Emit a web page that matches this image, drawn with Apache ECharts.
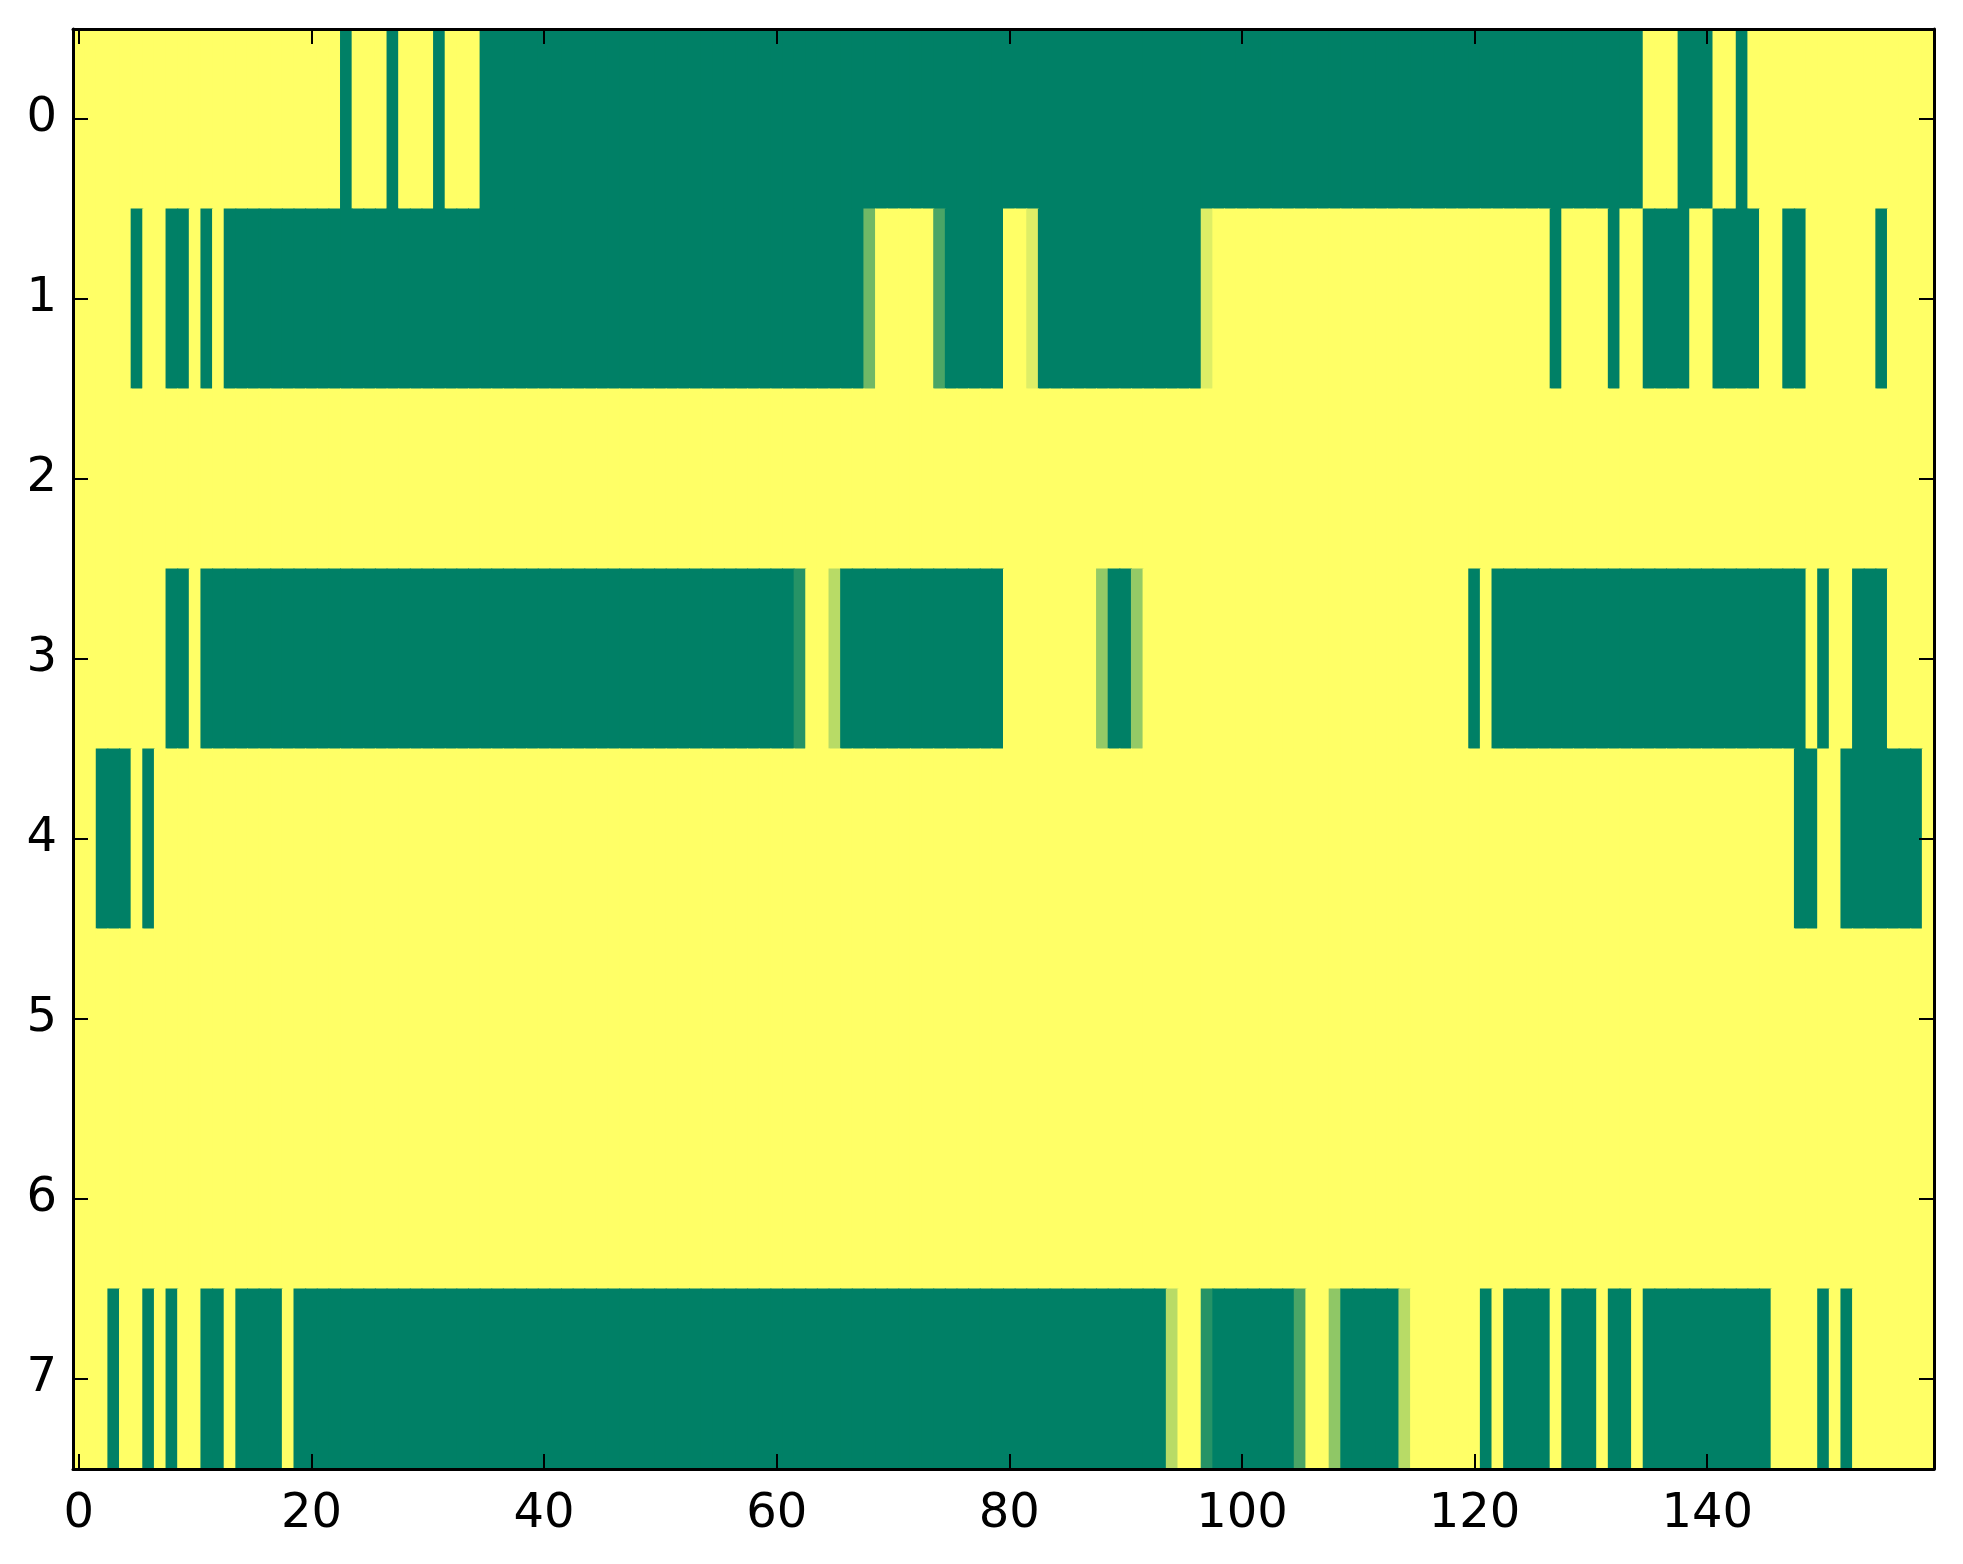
<!DOCTYPE html>
<html>
<head>
<meta charset="utf-8">
<script src="https://cdn.jsdelivr.net/npm/echarts@6/dist/echarts.min.js"></script>
<style>
html,body{margin:0;padding:0;background:#fff;}
#chart{width:1963px;height:1564px;}
</style>
</head>
<body>
<div id="chart"></div>
<script>
// Column indices 0..159 and row labels 0..7
const xCategories = Array.from({length: 160}, (_, i) => String(i));
const yCategories = ['0','1','2','3','4','5','6','7'];
const xTickLabels = ['0','20','40','60','80','100','120','140'];

// Cell values per row (0 = green end of the colormap, 1 = yellow end)
const row0 = [
 1,1,1,1,1,1,1,1,1,1, 1,1,1,1,1,1,1,1,1,1,
 1,1,1,0,1,1,1,0,1,1, 1,0,1,1,1,0,0,0,0,0,
 0,0,0,0,0,0,0,0,0,0, 0,0,0,0,0,0,0,0,0,0,
 0,0,0,0,0,0,0,0,0,0, 0,0,0,0,0,0,0,0,0,0,
 0,0,0,0,0,0,0,0,0,0, 0,0,0,0,0,0,0,0,0,0,
 0,0,0,0,0,0,0,0,0,0, 0,0,0,0,0,0,0,0,0,0,
 0,0,0,0,0,0,0,0,0,0, 0,0,0,0,0,1,1,1,0,0,
 0,1,1,0,1,1,1,1,1,1, 1,1,1,1,1,1,1,1,1,1
];
const row1 = [
 1,1,1,1,1,0,1,1,0,0, 1,0,1,0,0,0,0,0,0,0,
 0,0,0,0,0,0,0,0,0,0, 0,0,0,0,0,0,0,0,0,0,
 0,0,0,0,0,0,0,0,0,0, 0,0,0,0,0,0,0,0,0,0,
 0,0,0,0,0,0,0,0,0.44,1, 1,1,1,1,0.29,0,0,0,0,0,
 1,1,0.87,0,0,0,0,0,0,0, 0,0,0,0,0,0,0,0.87,1,1,
 1,1,1,1,1,1,1,1,1,1, 1,1,1,1,1,1,1,1,1,1,
 1,1,1,1,1,1,1,0,1,1, 1,1,0,1,1,0,0,0,0,1,
 1,0,0,0,0,1,1,0,0,1, 1,1,1,1,1,0,1,1,1,1
];
const row2 = [
 1,1,1,1,1,1,1,1,1,1, 1,1,1,1,1,1,1,1,1,1,
 1,1,1,1,1,1,1,1,1,1, 1,1,1,1,1,1,1,1,1,1,
 1,1,1,1,1,1,1,1,1,1, 1,1,1,1,1,1,1,1,1,1,
 1,1,1,1,1,1,1,1,1,1, 1,1,1,1,1,1,1,1,1,1,
 1,1,1,1,1,1,1,1,1,1, 1,1,1,1,1,1,1,1,1,1,
 1,1,1,1,1,1,1,1,1,1, 1,1,1,1,1,1,1,1,1,1,
 1,1,1,1,1,1,1,1,1,1, 1,1,1,1,1,1,1,1,1,1,
 1,1,1,1,1,1,1,1,1,1, 1,1,1,1,1,1,1,1,1,1
];
const row3 = [
 1,1,1,1,1,1,1,1,0,0, 1,0,0,0,0,0,0,0,0,0,
 0,0,0,0,0,0,0,0,0,0, 0,0,0,0,0,0,0,0,0,0,
 0,0,0,0,0,0,0,0,0,0, 0,0,0,0,0,0,0,0,0,0,
 0,0,0.15,1,1,0.72,0,0,0,0, 0,0,0,0,0,0,0,0,0,0,
 1,1,1,1,1,1,1,1,0.58,0, 0,0.58,1,1,1,1,1,1,1,1,
 1,1,1,1,1,1,1,1,1,1, 1,1,1,1,1,1,1,1,1,1,
 0,1,0,0,0,0,0,0,0,0, 0,0,0,0,0,0,0,0,0,0,
 0,0,0,0,0,0,0,0,0,1, 0,1,1,0,0,0,1,1,1,1
];
const row4 = [
 1,1,0,0,0,1,0,1,1,1, 1,1,1,1,1,1,1,1,1,1,
 1,1,1,1,1,1,1,1,1,1, 1,1,1,1,1,1,1,1,1,1,
 1,1,1,1,1,1,1,1,1,1, 1,1,1,1,1,1,1,1,1,1,
 1,1,1,1,1,1,1,1,1,1, 1,1,1,1,1,1,1,1,1,1,
 1,1,1,1,1,1,1,1,1,1, 1,1,1,1,1,1,1,1,1,1,
 1,1,1,1,1,1,1,1,1,1, 1,1,1,1,1,1,1,1,1,1,
 1,1,1,1,1,1,1,1,1,1, 1,1,1,1,1,1,1,1,1,1,
 1,1,1,1,1,1,1,1,0,0, 1,1,0,0,0,0,0,0,0,1
];
const row5 = [
 1,1,1,1,1,1,1,1,1,1, 1,1,1,1,1,1,1,1,1,1,
 1,1,1,1,1,1,1,1,1,1, 1,1,1,1,1,1,1,1,1,1,
 1,1,1,1,1,1,1,1,1,1, 1,1,1,1,1,1,1,1,1,1,
 1,1,1,1,1,1,1,1,1,1, 1,1,1,1,1,1,1,1,1,1,
 1,1,1,1,1,1,1,1,1,1, 1,1,1,1,1,1,1,1,1,1,
 1,1,1,1,1,1,1,1,1,1, 1,1,1,1,1,1,1,1,1,1,
 1,1,1,1,1,1,1,1,1,1, 1,1,1,1,1,1,1,1,1,1,
 1,1,1,1,1,1,1,1,1,1, 1,1,1,1,1,1,1,1,1,1
];
const row6 = [
 1,1,1,1,1,1,1,1,1,1, 1,1,1,1,1,1,1,1,1,1,
 1,1,1,1,1,1,1,1,1,1, 1,1,1,1,1,1,1,1,1,1,
 1,1,1,1,1,1,1,1,1,1, 1,1,1,1,1,1,1,1,1,1,
 1,1,1,1,1,1,1,1,1,1, 1,1,1,1,1,1,1,1,1,1,
 1,1,1,1,1,1,1,1,1,1, 1,1,1,1,1,1,1,1,1,1,
 1,1,1,1,1,1,1,1,1,1, 1,1,1,1,1,1,1,1,1,1,
 1,1,1,1,1,1,1,1,1,1, 1,1,1,1,1,1,1,1,1,1,
 1,1,1,1,1,1,1,1,1,1, 1,1,1,1,1,1,1,1,1,1
];
const row7 = [
 1,1,1,0,1,1,0,1,0,1, 1,0,0,1,0,0,0,0,1,0,
 0,0,0,0,0,0,0,0,0,0, 0,0,0,0,0,0,0,0,0,0,
 0,0,0,0,0,0,0,0,0,0, 0,0,0,0,0,0,0,0,0,0,
 0,0,0,0,0,0,0,0,0,0, 0,0,0,0,0,0,0,0,0,0,
 0,0,0,0,0,0,0,0,0,0, 0,0,0,0,0.72,1,1,0.15,0,0,
 0,0,0,0,0,0.29,1,1,0.56,0, 0,0,0,0,0.72,1,1,1,1,1,
 1,0,1,0,0,0,0,1,0,0, 0,1,0,0,1,0,0,0,0,0,
 0,0,0,0,0,0,1,1,1,1, 0,1,0,1,1,1,1,1,1,1
];

const rows = [row0, row1, row2, row3, row4, row5, row6, row7];
const heatData = [];
rows.forEach((r, y) => r.forEach((v, x) => heatData.push([x, y, v])));

const FONT = 'DejaVu Sans';
const axisLineStyle = {color: '#000', width: 3};
const tickStyle = {color: '#000', width: 2};
const showXLabel = (idx, val) => xTickLabels.indexOf(val) >= 0;

const chart = echarts.init(document.getElementById('chart'), null, {renderer: 'canvas'});
chart.setOption({
  animation: false,
  backgroundColor: '#fff',
  grid: {left: 73, top: 29, width: 1861, height: 1440, containLabel: false},
  xAxis: [
    {
      type: 'category', data: xCategories, position: 'bottom', boundaryGap: true,
      axisLine: {show: true, lineStyle: axisLineStyle},
      axisTick: {show: true, inside: true, length: 15, alignWithLabel: true, interval: showXLabel, lineStyle: tickStyle},
      axisLabel: {show: true, interval: showXLabel, color: '#000', fontSize: 48, fontFamily: FONT, margin: 22},
      splitLine: {show: false}, z: 10
    },
    {
      type: 'category', data: xCategories, position: 'top', boundaryGap: true,
      axisLine: {show: true, lineStyle: axisLineStyle},
      axisTick: {show: true, inside: true, length: 15, alignWithLabel: true, interval: showXLabel, lineStyle: tickStyle},
      axisLabel: {show: false},
      splitLine: {show: false}, z: 10
    }
  ],
  yAxis: [
    {
      type: 'category', data: yCategories, inverse: true, position: 'left', boundaryGap: true,
      axisLine: {show: true, lineStyle: axisLineStyle},
      axisTick: {show: true, inside: true, length: 15, alignWithLabel: true, lineStyle: tickStyle},
      axisLabel: {show: true, color: '#000', fontSize: 48, fontFamily: FONT, margin: 16},
      splitLine: {show: false}, z: 10
    },
    {
      type: 'category', data: yCategories, inverse: true, position: 'right', boundaryGap: true,
      axisLine: {show: true, lineStyle: axisLineStyle},
      axisTick: {show: true, inside: true, length: 15, alignWithLabel: true, lineStyle: tickStyle},
      axisLabel: {show: false},
      splitLine: {show: false}, z: 10
    }
  ],
  visualMap: {
    show: false, type: 'continuous', min: 0, max: 1, dimension: 2, seriesIndex: 0,
    inRange: {color: ['#008066', '#ffff66']}
  },
  series: [{
    type: 'custom', xAxisIndex: 0, yAxisIndex: 0, data: heatData,
    encode: {x: 0, y: 1},
    clip: true,
    silent: true,
    renderItem: function (params, api) {
      const c = api.coord([api.value(0), api.value(1)]);
      const s = api.size([1, 1]);
      return {
        type: 'rect',
        shape: {x: c[0] - s[0] / 2 - 0.5, y: c[1] - s[1] / 2 - 0.5, width: s[0] + 1, height: s[1] + 1},
        style: {fill: api.visual('color'), stroke: null, lineWidth: 0}
      };
    }
  }]
});
</script>
</body>
</html>
